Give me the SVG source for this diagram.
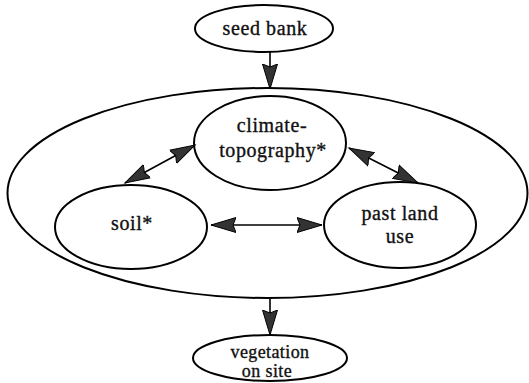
<svg xmlns="http://www.w3.org/2000/svg" width="529" height="383" viewBox="0 0 529 383">
<style>
.node{fill:#fff;stroke:#000;stroke-width:2}
.lbl{font-family:'Times New Roman','Liberation Serif',Tinos,'DejaVu Serif',serif;font-size:20px;fill:#111;text-anchor:middle;letter-spacing:0.6px;stroke:#111;stroke-width:0.35}
.sm{font-size:18px;letter-spacing:0.4px}
.edge{stroke:#000;stroke-width:1.6;fill:none}
</style>
<defs>
<marker id="ah" markerUnits="userSpaceOnUse" markerWidth="27" markerHeight="18" refX="25" refY="8.5" orient="auto-start-reverse" viewBox="0 0 27 18">
<path d="M0,1 L25,8.5 L0,16 L3,8.5 z" fill="#333" stroke="#000" stroke-width="1"/>
</marker>
</defs>
<rect width="529" height="383" fill="#fff"/>
<g id="context">
<ellipse class="node" cx="267.5" cy="193" rx="260" ry="105"/>
</g>
<g id="seed-bank">
<ellipse class="node" cx="264" cy="28.5" rx="69" ry="23.5"/>
<text class="lbl" x="265" y="35">seed bank</text>
</g>
<g id="climate-topography">
<ellipse class="node" cx="270" cy="143" rx="76" ry="47"/>
<text class="lbl" x="272" y="132">climate-</text>
<text class="lbl" x="273" y="157">topography*</text>
</g>
<g id="soil">
<ellipse class="node" cx="131" cy="227" rx="76" ry="42"/>
<text class="lbl" x="132" y="230">soil*</text>
</g>
<g id="past-land-use">
<ellipse class="node" cx="400" cy="225" rx="76" ry="43"/>
<text class="lbl" x="400" y="220">past land</text>
<text class="lbl" x="400" y="243">use</text>
</g>
<g id="vegetation-on-site">
<ellipse class="node" cx="270" cy="358" rx="77" ry="23"/>
<text class="lbl sm" x="270" y="358">vegetation</text>
<text class="lbl sm" x="267" y="377">on site</text>
</g>
<g id="connectors">
<line class="edge" x1="270" y1="52" x2="270" y2="89" marker-end="url(#ah)"/>
<line class="edge" x1="270" y1="299" x2="270" y2="335" marker-end="url(#ah)"/>
<line class="edge" x1="125" y1="183" x2="195" y2="145" marker-start="url(#ah)" marker-end="url(#ah)"/>
<line class="edge" x1="349" y1="148" x2="418" y2="183" marker-start="url(#ah)" marker-end="url(#ah)"/>
<line class="edge" x1="211" y1="225" x2="322" y2="225" marker-start="url(#ah)" marker-end="url(#ah)"/>
</g>
</svg>
